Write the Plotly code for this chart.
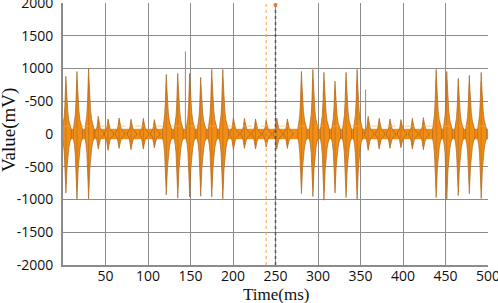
import plotly.graph_objects as go

# ---- data ----
large_times = [3.4, 16.4, 30.1,
               121.5, 135, 149, 162, 175, 188,
               280.5, 294, 307, 320, 333, 346,
               439, 451.5, 465, 478, 492]
large_pos = [880, 955, 1000,
             910, 925, 925, 865, 985, 985,
             955, 985, 940, 805, 940, 985,
             985, 955, 850, 895, 940]
large_neg = [-900, -1000, -990,
             -930, -980, -960, -950, -960, -990,
             -910, -955, -1010, -900, -970, -1000,
             -970, -1000, -940, -910, -985]
small_times = [41.5, 53, 66, 80, 94.5, 107.5,
               200.5, 213.5, 226.5, 239, 251.5, 264,
               359, 372, 384.7, 397.6, 411, 424]
small_pos = [270, 230, 245, 225, 240, 220,
             250, 240, 230, 210, 240, 230,
             270, 240, 230, 220, 240, 250]
small_neg = [-230, -250, -220, -240, -230, -210,
             -240, -220, -230, -200, -230, -220,
             -250, -230, -220, -210, -230, -240]
spike_times = [144, 356]
spike_vals = [1260, 680]
# envelope of a single burst: time offsets (ms) and relative amplitude
env_offsets = [-4.2, -3.0, -2.0, -1.2, -0.5, 0.0, 0.6, 1.4, 2.4, 3.6, 5.0, 6.5]
env_factor = [0.07, 0.16, 0.3, 0.5, 0.8, 1.0, 0.8, 0.55, 0.36, 0.22, 0.12, 0.07]
baseline_amp = 75
marker_ref = 120
cursor_times = [239, 250]

x_ticks = [50, 100, 150, 200, 250, 300, 350, 400, 450, 500]
y_ticks = [2000, 1500, 1000, 500, 0, -500, -1000, -1500, -2000]
y_ticktext = ["2000", "1500", "1000", "-500", "0", "-500", "-1000", "-1500", "-2000"]

FILL = "#F18D14"
EDGE = "#A8651E"

fig = go.Figure()

# baseline noise band
fig.add_trace(go.Scatter(
    x=[0, 500, 500, 0, 0],
    y=[baseline_amp, baseline_amp, -baseline_amp, -baseline_amp, baseline_amp],
    fill="toself", fillcolor=FILL, line=dict(color=FILL, width=0.5),
    mode="lines", hoverinfo="skip", showlegend=False))


def burst_polys(times, pos, neg):
    xs, ys = [], []
    for t, p, n in zip(times, pos, neg):
        up_x = [t + o for o in env_offsets]
        up_y = [p * f for f in env_factor]
        lo_x = list(reversed(up_x))
        lo_y = [n * f for f in reversed(env_factor)]
        xs += up_x + lo_x + [up_x[0], None]
        ys += up_y + lo_y + [up_y[0], None]
    return xs, ys


for (tt, pp, nn) in [(large_times, large_pos, large_neg),
                     (small_times, small_pos, small_neg)]:
    bx, by = burst_polys(tt, pp, nn)
    fig.add_trace(go.Scatter(
        x=bx, y=by, fill="toself", fillcolor=FILL,
        line=dict(color=EDGE, width=0.7), mode="lines",
        hoverinfo="skip", showlegend=False))
    # darker core line of each burst
    cx, cy = [], []
    for t, p, n in zip(tt, pp, nn):
        cx += [t, t, None]
        cy += [p * 0.85, n * 0.85, None]
    fig.add_trace(go.Scatter(x=cx, y=cy, mode="lines",
                             line=dict(color="#C7711A", width=0.8),
                             hoverinfo="skip", showlegend=False))

# thin spikes
sx, sy = [], []
for t, v in zip(spike_times, spike_vals):
    sx += [t, t, None]
    sy += [0, v, None]
fig.add_trace(go.Scatter(x=sx, y=sy, mode="lines",
                         line=dict(color="#9a8a7a", width=1),
                         hoverinfo="skip", showlegend=False))

# cursor lines
fig.add_trace(go.Scatter(x=[cursor_times[0], cursor_times[0]], y=[-2000, 2000],
                         mode="lines", line=dict(color="#F5A040", width=1, dash="dot"),
                         hoverinfo="skip", showlegend=False))
fig.add_trace(go.Scatter(x=[cursor_times[1], cursor_times[1]], y=[-2000, 2000],
                         mode="lines", line=dict(color="#555555", width=1.5, dash="dot"),
                         hoverinfo="skip", showlegend=False))
fig.add_trace(go.Scatter(x=[cursor_times[1]], y=[1970], mode="markers",
                         marker=dict(color="#E8782A", size=4),
                         hoverinfo="skip", showlegend=False))
# horizontal reference marker
fig.add_trace(go.Scatter(x=[0, 500], y=[marker_ref, marker_ref], mode="lines",
                         line=dict(color="#F7B060", width=1, dash="dash"),
                         hoverinfo="skip", showlegend=False, opacity=0.6))

fig.update_layout(
    width=498, height=303,
    margin=dict(l=63, r=10, t=3, b=38),
    paper_bgcolor="white", plot_bgcolor="white",
    showlegend=False,
    font=dict(family="Open Sans, Liberation Sans, sans-serif", size=14, color="#111"),
    annotations=[
        dict(text="Time(ms)", xref="paper", yref="paper", x=0.5, y=0,
             yshift=-29, xanchor="center", yanchor="middle", showarrow=False,
             font=dict(family="Liberation Serif, serif", size=17, color="#111")),
        dict(text="Value(mV)", xref="paper", yref="paper", x=0, y=0.5,
             xshift=-54, yshift=4, xanchor="center", yanchor="middle",
             textangle=-90, showarrow=False,
             font=dict(family="Liberation Serif, serif", size=19, color="#111")),
    ],
)
fig.update_xaxes(
    range=[0, 500], tickvals=x_ticks, ticktext=[str(v) for v in x_ticks],
    showgrid=True, gridcolor="#8c8c8c", gridwidth=1,
    showline=True, linecolor="#8c8c8c", linewidth=2, mirror=False,
    zeroline=False, ticks="", ticklabelstandoff=-3,
    ticklabeloverflow="allow", automargin=False,
)
fig.update_yaxes(
    range=[-2000, 2000], tickvals=y_ticks, ticktext=y_ticktext,
    showgrid=True, gridcolor="#8c8c8c", gridwidth=1,
    showline=True, linecolor="#8c8c8c", linewidth=2,
    zeroline=False, ticks="", ticklabelstandoff=5,
    ticklabeloverflow="allow", automargin=False,
)
fig.write_html("out.html", config={"displayModeBar": False},
               post_script="document.body.style.margin='0';")
